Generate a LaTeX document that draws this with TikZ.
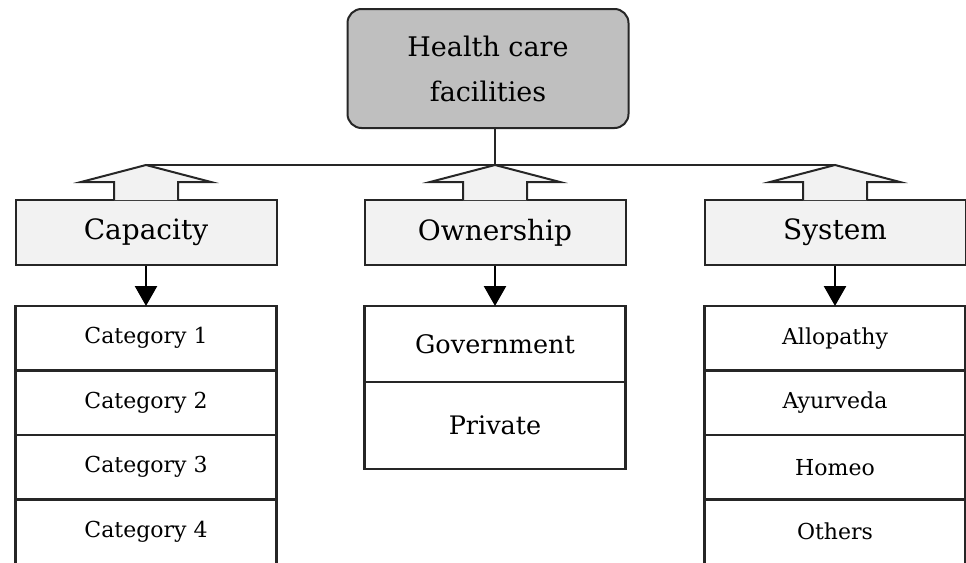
\documentclass[tikz,border=0pt]{standalone}
\usepackage{fontspec}
\setmainfont{DejaVu Serif}
\usetikzlibrary{positioning,arrows.meta}

\begin{document}
\begin{tikzpicture}[
		x=1pt, y=-1pt
		,root/.style={draw=black!85, line width=2pt, rounded corners=14pt, fill=black!25, minimum width=281pt, minimum height=119pt, align=center, font=\fontsize{27}{45}\selectfont}
		,group/.style={draw=black!85, line width=2pt, fill=black!5, minimum width=261pt, minimum height=65pt, font=\fontsize{28}{34}\selectfont}
		,shell/.style={draw=black!85, line width=2pt, fill=black!5}
		,entry/.style={draw=black!85, line width=2.2pt, outer sep=0pt, minimum width=261pt, minimum height=64.5pt, font=\fontsize{22}{26}\selectfont}
		,link/.style={line width=2.6pt, -{Triangle[width=22pt,length=20pt]}}
	]
		\useasboundingbox (0,0) rectangle (966,562);
		\clip (0,0) rectangle (966,562);

		\node[root] (hcf) at (488,68.5) {Health care\\facilities};
		\node[group] (cap) at (146,232.5) {Capacity};
		\node[group] (own) at (495,232.5) {Ownership};
		\node[group] (sys) at (835,232.5) {System};

		% arrow heads on top of the groups
		\filldraw[shell] (cap.north) ++(-32,1.2) -- ++(0,-18.2) -- ++(-33,0) -- ++(65,-17) -- ++(65,17) -- ++(-33,0) -- ++(0,18.2);
		\filldraw[shell] (own.north) ++(-32,1.2) -- ++(0,-18.2) -- ++(-33,0) -- ++(65,-17) -- ++(65,17) -- ++(-33,0) -- ++(0,18.2);
		\filldraw[shell] (sys.north) ++(-32,1.2) -- ++(0,-18.2) -- ++(-33,0) -- ++(65,-17) -- ++(65,17) -- ++(-33,0) -- ++(0,18.2);
		\path (cap.north) ++(0,-34) coordinate (captip);
		\path (own.north) ++(0,-34) coordinate (owntip);
		\path (sys.north) ++(0,-34) coordinate (systip);

		\node[entry, below=40pt of cap] (c1) {Category 1};
		\node[entry, below=0pt of c1] (c2) {Category 2};
		\node[entry, below=0pt of c2] (c3) {Category 3};
		\node[entry, below=0pt of c3] (c4) {Category 4};

		\node[entry, minimum height=76pt, font=\fontsize{25.5}{30}\selectfont, below=40pt of own] (g1) {Government};
		\node[entry, minimum height=87pt, font=\fontsize{25.5}{30}\selectfont, below=0pt of g1] (g2) {Private};

		\node[entry, below=40pt of sys] (s1) {Allopathy};
		\node[entry, below=0pt of s1] (s2) {Ayurveda};
		\node[entry, below=0pt of s2] (s3) {Homeo};
		\node[entry, below=0pt of s3] (s4) {Others};

		\draw[line width=2pt, draw=black!85] (owntip |- hcf.south) -- (owntip);
		\draw[line width=2pt, draw=black!85] (captip) -- (systip);
		\draw[link] (cap) -- (c1);
		\draw[link] (own) -- (g1);
		\draw[link] (sys) -- (s1);
	\end{tikzpicture}
\end{document}
